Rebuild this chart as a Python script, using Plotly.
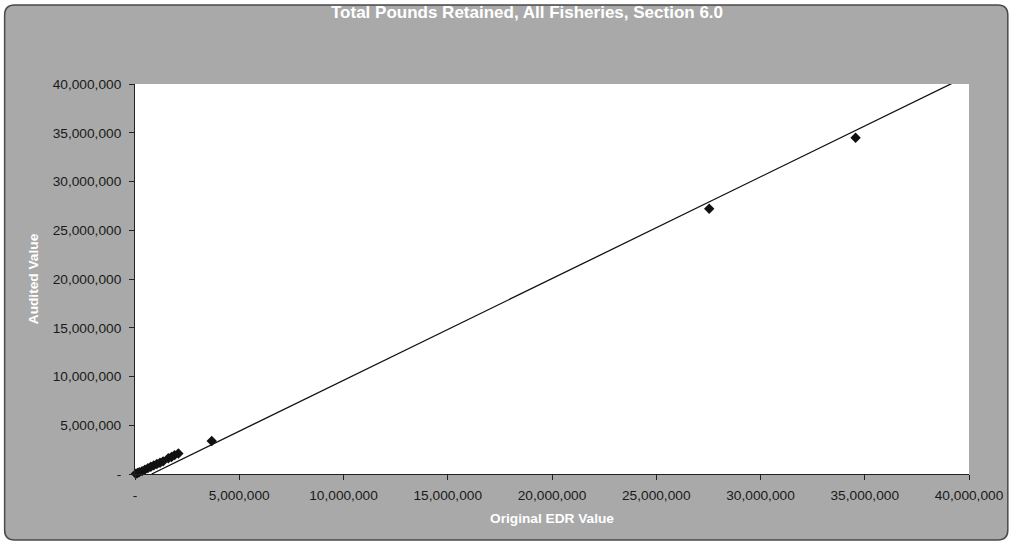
import plotly.graph_objects as go

# Pounds retained per record: original EDR value vs. audited value
original_edr = [40000, 120000, 210000, 340000, 480000, 620000, 760000, 900000,
                1050000, 1200000, 1350000, 1600000, 1750000, 1900000, 2080000,
                3680000, 27540000, 34560000]
audited_value = [30000, 100000, 190000, 300000, 450000, 600000, 740000, 880000,
                 1020000, 1150000, 1300000, 1620000, 1740000, 1940000, 2100000,
                 3380000, 27210000, 34480000]

# Reference line drawn across the chart
ref_line_x = [800000, 39700000]
ref_line_y = [0, 40600000]

tick_values = [0, 5000000, 10000000, 15000000, 20000000, 25000000,
               30000000, 35000000, 40000000]
tick_labels = ["-", "5,000,000", "10,000,000", "15,000,000", "20,000,000",
               "25,000,000", "30,000,000", "35,000,000", "40,000,000"]

W, H = 1016, 544
M_L, M_R, M_T, M_B = 135, 43, 84, 70
PW, PH = W - M_L - M_R, H - M_T - M_B


def px_x(p):
    return (p - M_L) / PW


def px_y(p):
    return (H - M_B - p) / PH


FONT = "Liberation Sans, Arial, sans-serif"
GRAY = "#a9a9a9"

fig = go.Figure()
fig.add_trace(go.Scatter(
    x=ref_line_x, y=ref_line_y, mode="lines",
    line=dict(color="#111111", width=1.3), hoverinfo="skip", showlegend=False,
))
fig.add_trace(go.Scatter(
    x=original_edr, y=audited_value, mode="markers",
    marker=dict(symbol="diamond", size=8, color="#111111"),
    showlegend=False, cliponaxis=False,
))

# Rounded grey chart frame with the white plot area on top
x0, x1 = px_x(4), px_x(1012)
y0, y1 = px_y(540), px_y(5)
rx, ry = 10 / PW, 10 / PH
frame = (f"M {x0+rx},{y1} L {x1-rx},{y1} Q {x1},{y1} {x1},{y1-ry} "
         f"L {x1},{y0+ry} Q {x1},{y0} {x1-rx},{y0} L {x0+rx},{y0} "
         f"Q {x0},{y0} {x0},{y0+ry} L {x0},{y1-ry} Q {x0},{y1} {x0+rx},{y1} Z")
fig.add_shape(type="path", path=frame, xref="paper", yref="paper",
              fillcolor=GRAY, line=dict(color="#4a4a4a", width=1.5), layer="below")
fig.add_shape(type="rect", xref="paper", yref="paper", x0=0, x1=1, y0=0, y1=1,
              fillcolor="white", line=dict(width=0), layer="below")

axis_common = dict(
    tickvals=tick_values, ticktext=tick_labels, range=[0, 40000000],
    showgrid=False, zeroline=False, showline=True, linecolor="#222222",
    linewidth=1, ticks="outside", ticklen=5, tickcolor="#222222",
    tickfont=dict(family=FONT, size=13.7, color="#1a1a1a"),
)

fig.update_layout(
    width=W, height=H,
    margin=dict(l=M_L, r=M_R, t=M_T, b=M_B),
    paper_bgcolor="white", plot_bgcolor="rgba(0,0,0,0)",
    title=dict(text="<b>Total Pounds Retained, All Fisheries, Section 6.0</b>",
               x=527 / W, xanchor="center", y=1 - 12 / H, yanchor="middle",
               font=dict(family=FONT, size=17, color="white")),
    xaxis=dict(**axis_common, ticklabelstandoff=4,
               title=dict(text="<b>Original EDR Value</b>", standoff=10,
                          font=dict(family=FONT, size=13.7, color="white"))),
    yaxis=dict(**axis_common, ticklabelstandoff=5,
               title=dict(text="<b>Audited Value</b>", standoff=10,
                          font=dict(family=FONT, size=13.7, color="white"))),
)

fig.write_html("out.html")
